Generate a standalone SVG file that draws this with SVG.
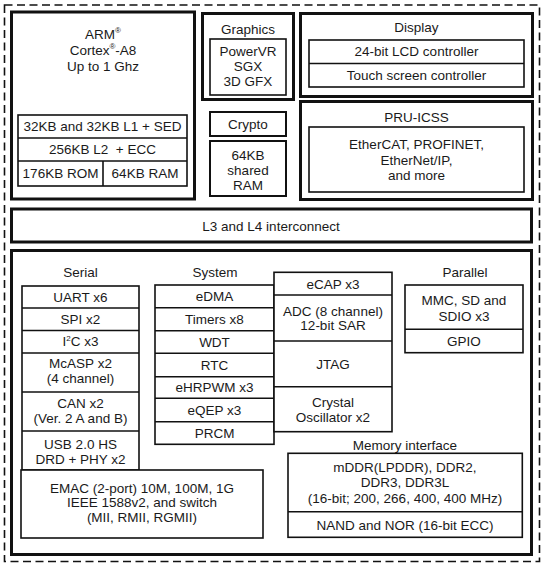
<svg xmlns="http://www.w3.org/2000/svg" width="550" height="571" viewBox="0 0 550 571">
<style>
  text { font-family: "Liberation Sans", Arial, sans-serif; font-size: 13.5px; fill: #1a1a1a; text-anchor: middle; white-space: pre; }
  .thick { fill: #fff; stroke: #111; stroke-width: 3; }
  .thin { fill: #fff; stroke: #111; stroke-width: 1.6; }
  .line { stroke: #111; stroke-width: 1.6; fill: none; }
  .dash { fill: none; stroke: #111; stroke-width: 1.6; stroke-dasharray: 8 4.5; }
  .sup { font-size: 8px; }
</style>
<rect width="550" height="571" fill="#fff"/>
<rect class="dash" x="4.5" y="5" width="535" height="556.5"/>

<g id="arm">
  <rect class="thick" x="11.5" y="12" width="183" height="187"/>
  <text x="103" y="39">ARM<tspan class="sup" dy="-6">®</tspan></text>
  <text x="103" y="55">Cortex<tspan class="sup" dy="-6">®</tspan><tspan dy="6">-A8</tspan></text>
  <text x="103" y="71">Up to 1 Ghz</text>
  <rect class="thin" x="18" y="115" width="169" height="71"/>
  <line class="line" x1="18" y1="138" x2="187" y2="138"/>
  <line class="line" x1="18" y1="161" x2="187" y2="161"/>
  <line class="line" x1="103" y1="161" x2="103" y2="186"/>
  <text x="102.5" y="131.3">32KB and 32KB L1 + SED</text>
  <text x="102.5" y="154.3">256KB L2  + ECC</text>
  <text x="60.5" y="178.3">176KB ROM</text>
  <text x="145" y="178.3">64KB RAM</text>
</g>

<g id="graphics">
  <rect class="thick" x="202.5" y="13.5" width="91" height="86"/>
  <text x="248" y="34">Graphics</text>
  <rect class="thin" x="210" y="39" width="76" height="56"/>
  <text x="248" y="56">PowerVR</text>
  <text x="248" y="71">SGX</text>
  <text x="248" y="86">3D GFX</text>
</g>

<g id="crypto">
  <rect class="thin" x="210" y="112" width="76" height="24" style="stroke-width:2"/>
  <text x="248" y="129">Crypto</text>
</g>

<g id="shared-ram">
  <rect class="thin" x="210" y="141" width="76" height="55" style="stroke-width:2"/>
  <text x="248" y="160">64KB</text>
  <text x="248" y="175">shared</text>
  <text x="248" y="190">RAM</text>
</g>

<g id="display">
  <rect class="thick" x="300.5" y="13.5" width="232" height="83"/>
  <text x="416.5" y="32">Display</text>
  <rect class="thin" x="309" y="40" width="215" height="47"/>
  <line class="line" x1="309" y1="63.5" x2="524" y2="63.5"/>
  <text x="416.5" y="56.3">24-bit LCD controller</text>
  <text x="416.5" y="80">Touch screen controller</text>
</g>

<g id="pru-icss">
  <rect class="thick" x="300.5" y="101.5" width="232" height="98"/>
  <text x="416.5" y="122">PRU-ICSS</text>
  <rect class="thin" x="309" y="127" width="215" height="65"/>
  <text x="416.5" y="149">EtherCAT, PROFINET,</text>
  <text x="416.5" y="164.5">EtherNet/IP,</text>
  <text x="416.5" y="180">and more</text>
</g>

<g id="interconnect">
  <rect class="thick" x="11.5" y="209" width="520" height="33"/>
  <text x="271" y="231">L3 and L4 interconnect</text>
</g>

<g id="peripherals">
  <rect class="thick" x="11.5" y="250.5" width="520" height="304"/>
</g>

<g id="serial">
  <text x="80.5" y="277">Serial</text>
  <rect class="thin" x="22" y="286" width="117" height="184"/>
  <line class="line" x1="22" y1="308" x2="139" y2="308"/>
  <line class="line" x1="22" y1="330.5" x2="139" y2="330.5"/>
  <line class="line" x1="22" y1="353" x2="139" y2="353"/>
  <line class="line" x1="22" y1="392" x2="139" y2="392"/>
  <line class="line" x1="22" y1="431" x2="139" y2="431"/>
  <text x="80.5" y="301.6">UART x6</text>
  <text x="80.5" y="323.7">SPI x2</text>
  <text x="80.5" y="346.3">I<tspan class="sup" dy="-5">2</tspan><tspan dy="5">C x3</tspan></text>
  <text x="80.5" y="368">McASP x2</text>
  <text x="80.5" y="383">(4 channel)</text>
  <text x="80.5" y="407.5">CAN x2</text>
  <text x="80.5" y="423">(Ver. 2 A and B)</text>
  <text x="80.5" y="449">USB 2.0 HS</text>
  <text x="80.5" y="463.5">DRD + PHY x2</text>
</g>

<g id="emac">
  <rect class="thin" x="21" y="470" width="242" height="68"/>
  <text x="142" y="493">EMAC (2-port) 10M, 100M, 1G</text>
  <text x="142" y="507">IEEE 1588v2, and switch</text>
  <text x="142" y="522">(MII, RMII, RGMII)</text>
</g>

<g id="system">
  <text x="215" y="277">System</text>
  <rect class="thin" x="155" y="285" width="119" height="159.3"/>
  <line class="line" x1="155" y1="307.7" x2="274" y2="307.7"/>
  <line class="line" x1="155" y1="330.7" x2="274" y2="330.7"/>
  <line class="line" x1="155" y1="353.3" x2="274" y2="353.3"/>
  <line class="line" x1="155" y1="376.7" x2="274" y2="376.7"/>
  <line class="line" x1="155" y1="398.3" x2="274" y2="398.3"/>
  <line class="line" x1="155" y1="421.7" x2="274" y2="421.7"/>
  <text x="214.5" y="301">eDMA</text>
  <text x="214.5" y="324">Timers x8</text>
  <text x="214.5" y="346.8">WDT</text>
  <text x="214.5" y="369.8">RTC</text>
  <text x="214.5" y="392.3">eHRPWM x3</text>
  <text x="214.5" y="414.8">eQEP x3</text>
  <text x="214.5" y="437.8">PRCM</text>
</g>

<g id="system-2">
  <rect class="thin" x="274" y="272.3" width="118" height="159.4"/>
  <line class="line" x1="274" y1="295" x2="392" y2="295"/>
  <line class="line" x1="274" y1="341" x2="392" y2="341"/>
  <line class="line" x1="274" y1="386.7" x2="392" y2="386.7"/>
  <text x="333" y="288.5">eCAP x3</text>
  <text x="333" y="316">ADC (8 channel)</text>
  <text x="333" y="330">12-bit SAR</text>
  <text x="333" y="368.7">JTAG</text>
  <text x="333" y="406.5">Crystal</text>
  <text x="333" y="421.5">Oscillator x2</text>
</g>

<g id="parallel">
  <text x="465" y="277">Parallel</text>
  <rect class="thin" x="405" y="285" width="118" height="67.7"/>
  <line class="line" x1="405" y1="329.3" x2="523" y2="329.3"/>
  <text x="464" y="305">MMC, SD and</text>
  <text x="464" y="320.5">SDIO x3</text>
  <text x="464" y="345.8">GPIO</text>
</g>

<g id="memory">
  <text x="405" y="449.5">Memory interface</text>
  <rect class="thin" x="288" y="453.3" width="234.3" height="84"/>
  <line class="line" x1="288" y1="511.7" x2="522.3" y2="511.7"/>
  <text x="405" y="471.5">mDDR(LPDDR), DDR2,</text>
  <text x="405" y="486.5">DDR3, DDR3L</text>
  <text x="405" y="503">(16-bit; 200, 266, 400, 400 MHz)</text>
  <text x="405" y="529.8">NAND and NOR (16-bit ECC)</text>
</g>

<g id="connectors"></g>
</svg>
